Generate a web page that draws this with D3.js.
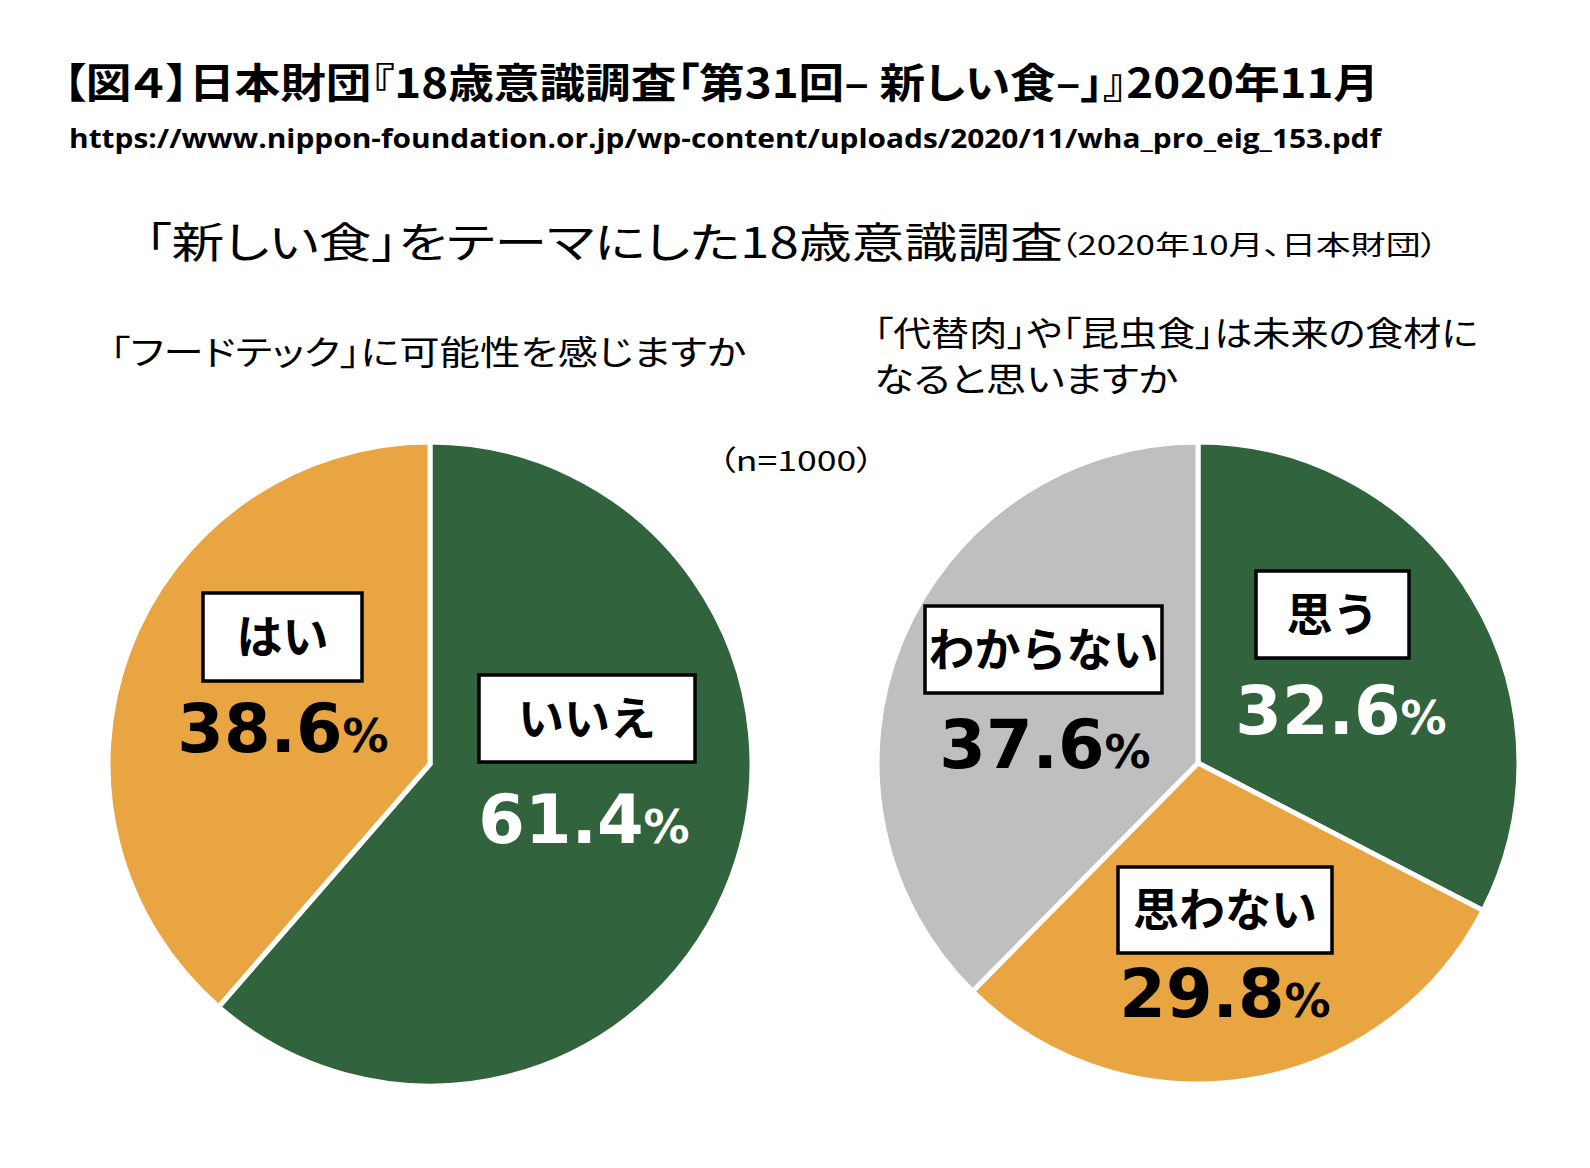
<!DOCTYPE html>
<html><head><meta charset="utf-8">
<script src="https://cdn.jsdelivr.net/npm/d3@7"></script>
<style>
html,body{margin:0;padding:0;background:#fff;}
svg{display:block;}
.palt{font-feature-settings:"palt" 1;}
</style></head>
<body>
<script>
// ---- data ----
const leftCategories = ["いいえ", "はい"];
const leftValues = [61.4, 38.6];
const rightCategories = ["思う", "思わない", "わからない"];
const rightValues = [32.6, 29.8, 37.6];
const sliceColors = ["#31633C", "#E8A541", "#BFBFBF"];
const valueTextColors = {"いいえ":"#ffffff","はい":"#000000","思う":"#ffffff","思わない":"#000000","わからない":"#000000"};
const titleText = "【図４】日本財団『18歳意識調査「第31回– 新しい食–」』2020年11月";
const urlText = "https://www.nippon-foundation.or.jp/wp-content/uploads/2020/11/wha_pro_eig_153.pdf";
const subtitleMain = "「新しい食」をテーマにした18歳意識調査";
const subtitleNote = "（2020年10月、日本財団）";
const leftQuestion = ["「フードテック」に可能性を感じますか"];
const rightQuestion = ["「代替肉」や「昆虫食」は未来の食材に", "なると思いますか"];
const sampleNote = "（n=1000）";

// ---- layout ----
const W = 1590, H = 1168;
const JP = "'Noto Sans CJK JP','Noto Sans',sans-serif";
const NUM = "'DejaVu Sans',Verdana,sans-serif";
const labelLayout = {
  "はい":     {box:[203,593,159,88], num:[283,752]},
  "いいえ":   {box:[479,675,216,87], num:[584,843]},
  "思う":     {box:[1256,571,153,87], num:[1341,734]},
  "わからない":{box:[925,606,237,87], num:[1045,768]},
  "思わない": {box:[1118,867,214,86], num:[1225,1017]}
};

const svg = d3.select("body").append("svg").attr("width", W).attr("height", H);
svg.append("rect").attr("width", W).attr("height", H).attr("fill", "#fff");

function txt(x, y, size, weight, len, s, font) {
  return svg.append("text").attr("class", "palt").attr("x", x).attr("y", y)
    .attr("font-family", font || JP).attr("font-weight", weight).attr("font-size", size)
    .attr("textLength", len).attr("lengthAdjust", "spacingAndGlyphs").text(s);
}

// titles
txt(63, 98, 41, 700, 1316, titleText);
txt(69, 148, 27, 700, 1312, urlText, "'Open Sans','Noto Sans',sans-serif");
txt(145, 258, 42, 400, 918, subtitleMain);
txt(1060, 255, 27, 400, 378, subtitleNote);

leftQuestion.forEach((t, i) => txt(110, 365 + i * 46, 34, 400, 636, t));
rightQuestion.forEach((t, i) => txt(874, 346 + i * 46, 34, 400, i === 0 ? 604 : 304, t));
txt(718, 471, 28, 400, 156, sampleNote);

function drawPie(cx, cy, r, cats, vals, colors) {
  const data = cats.map((c, i) => ({cat: c, value: vals[i], color: colors[i]}));
  const pie = d3.pie().sort(null).value(d => d.value);
  const arc = d3.arc().innerRadius(0).outerRadius(r);
  const g = svg.append("g").attr("transform", `translate(${cx},${cy})`);
  g.selectAll("path").data(pie(data)).join("path")
    .attr("d", arc).attr("fill", d => d.data.color)
    .attr("stroke", "#fff").attr("stroke-width", 5).attr("stroke-linejoin", "miter");
  data.forEach(d => {
    const L = labelLayout[d.cat];
    const [bx, by, bw, bh] = L.box;
    svg.append("rect").attr("x", bx).attr("y", by).attr("width", bw).attr("height", bh)
      .attr("fill", "#fff").attr("stroke", "#000").attr("stroke-width", 3.5);
    svg.append("text").attr("x", bx + bw / 2).attr("y", by + bh / 2 + 16)
      .attr("text-anchor", "middle").attr("font-family", JP).attr("font-weight", 700)
      .attr("font-size", 46).attr("fill", "#000").text(d.cat);
    const t = svg.append("text").attr("x", L.num[0]).attr("y", L.num[1])
      .attr("text-anchor", "middle").attr("font-family", NUM).attr("font-weight", 700)
      .attr("fill", valueTextColors[d.cat]);
    t.append("tspan").attr("font-size", 67).text(d3.format(".1f")(d.value));
    t.append("tspan").attr("font-size", 46).text("%");
  });
}

drawPie(430, 764, 322, leftCategories, leftValues, sliceColors);
drawPie(1198, 763, 321, rightCategories, rightValues, sliceColors);
</script>
</body></html>
